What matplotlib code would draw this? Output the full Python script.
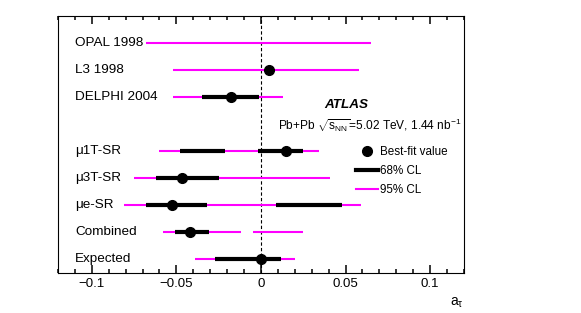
import matplotlib.pyplot as plt
from matplotlib.lines import Line2D
from matplotlib.ticker import MultipleLocator

plt.rcParams['font.family'] = ['Liberation Sans', 'DejaVu Sans']
plt.rcParams['mathtext.fontset'] = 'custom'
plt.rcParams['mathtext.rm'] = 'Liberation Sans'
plt.rcParams['mathtext.it'] = 'Liberation Sans'

# Rows (top to bottom); row 3 is left empty
labels = ["OPAL 1998", "L3 1998", "DELPHI 2004",
          "\u03bc1T-SR", "\u03bc3T-SR", "\u03bce-SR", "Combined", "Expected"]
rows = [0, 1, 2, 4, 5, 6, 7, 8]

# best-fit values (None = not shown)
best_fit = [None, 0.0045, -0.0176, 0.0146, -0.0468, -0.0527, -0.0418, 0.0]

# 95% CL intervals
cl95 = [
    [(-0.068, 0.065)],
    [(-0.052, 0.058)],
    [(-0.052, 0.013)],
    [(-0.060, 0.034)],
    [(-0.075, 0.041)],
    [(-0.081, 0.059)],
    [(-0.058, -0.012), (-0.005, 0.025)],
    [(-0.039, 0.020)],
]

# 68% CL intervals
cl68 = [
    [],
    [],
    [(-0.035, -0.001)],
    [(-0.048, -0.021), (-0.002, 0.025)],
    [(-0.062, -0.025)],
    [(-0.068, -0.032), (0.009, 0.048)],
    [(-0.051, -0.031)],
    [(-0.027, 0.012)],
]

xticks = [-0.1, -0.05, 0, 0.05, 0.1]
xticklabels = ["\u22120.1", "\u22120.05", "0", "0.05", "0.1"]

magenta = '#ff00ff'

fig = plt.figure(figsize=(5.81, 3.13), dpi=100)
ax = fig.add_axes([0.0998, 0.1278, 0.6988, 0.8211])

ax.axvline(0, color='black', lw=0.8, ls=(0, (3, 2)), zorder=1)

for r, iv in zip(rows, cl95):
    for lo, hi in iv:
        ax.plot([lo, hi], [r, r], color=magenta, lw=1.5, solid_capstyle='butt', zorder=2)
for r, iv in zip(rows, cl68):
    for lo, hi in iv:
        ax.plot([lo, hi], [r, r], color='black', lw=3, solid_capstyle='butt', zorder=3)
for r, b in zip(rows, best_fit):
    if b is not None:
        ax.plot(b, r, 'o', color='black', ms=7, zorder=4)

for r, lab in zip(rows, labels):
    ax.text(0.042, r, lab, transform=ax.get_yaxis_transform(), va='center', ha='left', fontsize=9.7)

ax.set_xlim(-0.12, 0.12)
ax.set_ylim(8.5, -1)
ax.tick_params(axis='y', left=False, labelleft=False)

ax.set_xticks(xticks)
ax.set_xticklabels(xticklabels, fontsize=9.5)
ax.xaxis.set_minor_locator(MultipleLocator(0.01))
ax.tick_params(axis='x', which='both', direction='in', top=True, width=1.1, color='black')
ax.tick_params(axis='x', which='major', length=6)
ax.tick_params(axis='x', which='minor', length=3)

ax.set_xlabel(r"a$_{\tau}$", fontsize=10, loc='right')

ax.text(0.657, 0.654, "ATLAS", transform=ax.transAxes, fontsize=9.7,
        fontweight='bold', fontstyle='italic', va='center')
ax.text(0.542, 0.576, r"Pb+Pb $\sqrt{s_{\mathrm{NN}}}$=5.02 TeV, 1.44 nb$^{-1}$",
        transform=ax.transAxes, fontsize=8.6, va='center')

handles = [
    Line2D([], [], marker='o', color='black', ls='none', ms=7),
    Line2D([], [], color='black', lw=3),
    Line2D([], [], color=magenta, lw=1.5),
]
ax.legend(handles, ["Best-fit value", "68% CL", "95% CL"], loc='upper left',
          bbox_to_anchor=(0.72, 0.515), frameon=False, fontsize=8.4,
          handlelength=1.9, handletextpad=0.15, labelspacing=0.6, borderpad=0)

fig.savefig("out.png", dpi=100)
